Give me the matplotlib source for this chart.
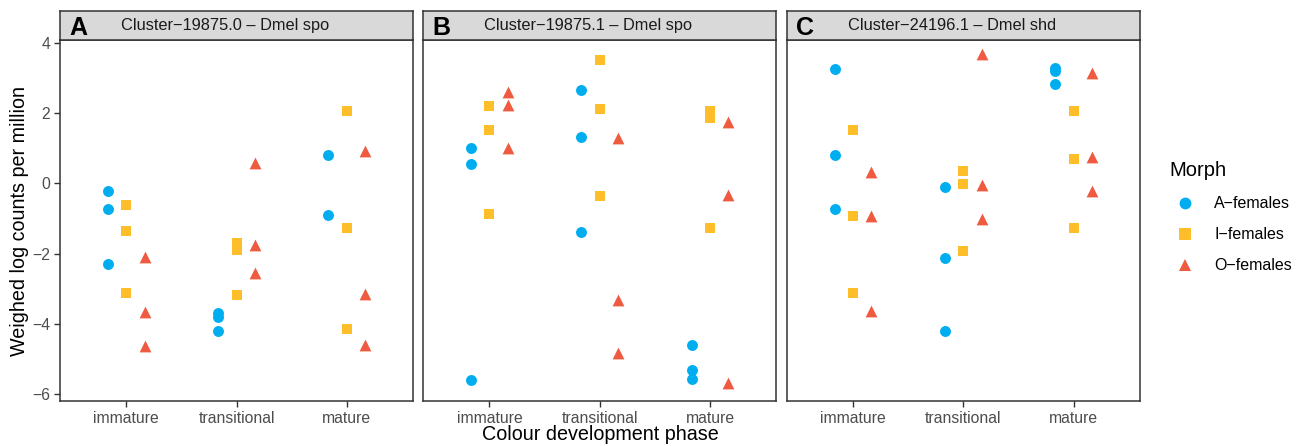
import matplotlib.pyplot as plt
from matplotlib.lines import Line2D

plt.rcParams['font.family'] = ['Liberation Sans', 'DejaVu Sans']

phases = ["immature", "transitional", "mature"]
morphs = ["A\u2212females", "I\u2212females", "O\u2212females"]
colors = ["#00AEEF", "#FDBE2A", "#EF5B40"]
markers = ["o", "s", "^"]
tags = ["A", "B", "C"]
titles = ["Cluster\u221219875.0 \u2013 Dmel spo",
          "Cluster\u221219875.1 \u2013 Dmel spo",
          "Cluster\u221224196.1 \u2013 Dmel shd"]

# values[panel][morph][phase] -> replicates
panel_a = [
    [[-0.21, -0.74, -2.28], [-3.70, -3.79, -4.20], [0.82, -0.90]],
    [[-0.62, -1.35, -3.11], [-1.69, -1.90, -3.17], [2.06, -1.27, -4.14]],
    [[-2.09, -3.65, -4.62], [0.57, -1.74, -2.54], [0.92, -3.15, -4.60]],
]
panel_b = [
    [[1.01, 0.54, -5.60], [2.67, 1.33, -1.39], [-4.59, -5.30, -5.56]],
    [[2.20, 1.52, -0.86], [3.51, 2.12, -0.36], [2.06, 1.87, -1.27]],
    [[2.61, 2.23, 1.00], [1.30, -3.32, -4.82], [1.75, -0.34, -5.69]],
]
panel_c = [
    [[3.26, 0.82, -0.74], [-0.09, -2.12, -4.20], [3.29, 3.19, 2.83]],
    [[1.52, -0.92, -3.11], [0.36, -0.01, -1.92], [2.06, 0.70, -1.27]],
    [[0.33, -0.92, -3.63], [3.67, -0.05, -1.00], [3.14, 0.76, -0.22]],
]
panels = [panel_a, panel_b, panel_c]

W, H = 1300, 446
fig = plt.figure(figsize=(W / 100, H / 100), dpi=100)

lefts = [60, 423.3, 786.7]
pw, bot, top, strip_top = 353, 401, 40, 10.7
dodge = [-1 / 6, 0, 1 / 6]
edge = "#333333"

for k in range(3):
    ax = fig.add_axes([lefts[k] / W, (H - bot) / H, pw / W, (bot - top) / H])
    for m in range(3):
        for p in range(3):
            ys = panels[k][m][p]
            ax.scatter([p + 1 + dodge[m]] * len(ys), ys, marker=markers[m],
                       color=colors[m], s=62 if m != 2 else 72,
                       linewidths=0, zorder=3)
    ax.set_xlim(0.4, 3.6)
    ax.set_ylim(-6.19, 4.08)
    ax.set_xticks([1, 2, 3])
    ax.set_xticklabels(phases)
    ax.set_yticks([-6, -4, -2, 0, 2, 4])
    for s in ax.spines.values():
        s.set_color(edge)
        s.set_linewidth(1.1)
    ax.tick_params(colors=edge, labelcolor="#4D4D4D", labelsize=11.3,
                   length=4, width=1, pad=3)
    if k > 0:
        ax.set_yticklabels([])
        ax.tick_params(axis='y', length=0)

    sax = fig.add_axes([lefts[k] / W, (H - top) / H, pw / W, (top - strip_top) / H])
    sax.set_facecolor("#D9D9D9")
    sax.set_xticks([])
    sax.set_yticks([])
    for s in sax.spines.values():
        s.set_color(edge)
        s.set_linewidth(1.1)
    sax.text(9 / pw, 0.42, tags[k], transform=sax.transAxes, fontsize=18,
             fontweight='bold', va='center', ha='left', color='black')
    sax.text(61 / pw, 0.5, titles[k], transform=sax.transAxes, fontsize=11.8,
             va='center', ha='left', color='#1A1A1A')

fig.text(20 / W, 1 - 221 / H, "Weighed log counts per million", rotation=90,
         fontsize=14.2, va='center', ha='center', color='black')
fig.text(600 / W, 1 - 435 / H, "Colour development phase",
         fontsize=14.2, va='center', ha='center', color='black')

handles = [Line2D([], [], linestyle='none', marker=markers[i], color=colors[i],
                  markersize=8.5, markeredgewidth=0) for i in range(3)]
leg = fig.legend(handles, morphs, title="Morph", loc='upper left',
                 bbox_to_anchor=(1155 / W, 1 - 147 / H), frameon=False,
                 fontsize=11.5, title_fontsize=14.5, handletextpad=0.8,
                 labelspacing=1.0, alignment='left')

fig.savefig("out.png", dpi=100)
